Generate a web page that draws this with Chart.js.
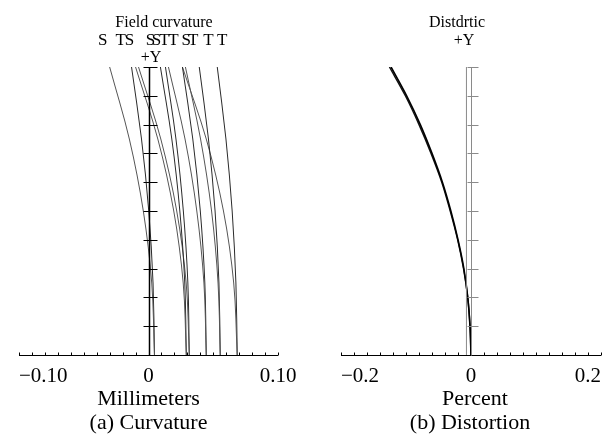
<!DOCTYPE html>
<html>
<head>
<meta charset="utf-8">
<script src="https://cdn.jsdelivr.net/npm/chart.js@4.4.1/dist/chart.umd.min.js"></script>
<style>
  body { margin: 0; background: #fff; width: 608px; height: 434px; overflow: hidden; position: relative; }
  canvas { position: absolute; top: 0; }
  #curv { left: 0; }
  #dist { left: 304px; }
</style>
</head>
<body>
<canvas id="curv" width="304" height="434"></canvas>
<canvas id="dist" width="304" height="434"></canvas>
<script>
// relative field height (0 = axis, 1 = +Y full field)
const fieldPts = [0, 0.25, 0.5, 0.75, 1];

// field curvature, millimeters, read at fieldPts (S = sagittal, T = tangential)
const s1 = [0.0046, 0.0025, -0.0040, -0.0148, -0.0300];
const t1 = [0.0046, 0.0035, 0.0002, -0.0054, -0.0131];
const s2 = [0.0292, 0.0268, 0.0195, 0.0072, -0.0100];
const t2 = [0.0292, 0.0280, 0.0242, 0.0180, 0.0092];
const s3 = [0.0315, 0.0291, 0.0218, 0.0095, -0.0077];
const t3 = [0.0315, 0.0304, 0.0269, 0.0212, 0.0131];
const s4 = [0.0446, 0.0428, 0.0373, 0.0282, 0.0154];
const t4 = [0.0446, 0.0435, 0.0400, 0.0342, 0.0262];
const s5 = [0.0554, 0.0537, 0.0487, 0.0402, 0.0285];
const t5 = [0.0554, 0.0544, 0.0514, 0.0463, 0.0392];
const s6 = [0.0685, 0.0658, 0.0579, 0.0446, 0.0262];
const t6 = [0.0685, 0.0675, 0.0646, 0.0598, 0.0531];

// distortion, percent (two nearly overlapping wavelengths)
const distField = [0, 0.1, 0.2, 0.3, 0.4, 0.5, 0.6, 0.7, 0.8, 0.9, 1];
const distPctA = [0, -0.0015, -0.005, -0.011, -0.020, -0.031, -0.044, -0.060, -0.078, -0.099, -0.123];
const distPctB = [0, -0.0015, -0.005, -0.0115, -0.0205, -0.032, -0.045, -0.0615, -0.080, -0.101, -0.1255];
const distRefField = [0, 1];
const distRefPct = [-0.007, -0.007];

// labels
const curvTopLabels = ['S', 'T', 'S', 'S', 'S', 'T', 'T', 'S', 'T', 'T', 'T'];
const curvXTicks = ['\u22120.10', '0', '0.10'];
const distXTicks = ['\u22120.2', '0', '0.2'];

const serif = '"Liberation Serif", "DejaVu Serif", serif';

function toPoints(xs, ys) {
  return xs.map((v, i) => ({ x: v, y: ys[i] }));
}

function line(ctx, x1, y1, x2, y2) {
  ctx.beginPath();
  ctx.moveTo(x1, y1);
  ctx.lineTo(x2, y2);
  ctx.stroke();
}

function text(ctx, str, x, y, size, align) {
  ctx.font = size + 'px ' + serif;
  ctx.textAlign = align || 'center';
  ctx.textBaseline = 'alphabetic';
  ctx.fillText(str, x, y);
}

// draws the axes and all the text around the plot
const frame = {
  id: 'frame',
  afterDatasetsDraw(chart, args, o) {
    const ctx = chart.ctx;
    const xs = chart.scales.x, ys = chart.scales.y;
    const y0 = Math.round(ys.getPixelForValue(0)) + 0.5;
    const x0 = Math.round(xs.getPixelForValue(0)) + 0.5;
    ctx.save();
    ctx.fillStyle = '#000';

    // horizontal axis with small ticks
    ctx.strokeStyle = '#000';
    ctx.lineWidth = 1;
    line(ctx, xs.left, y0, xs.right, y0);
    const n = Math.round((xs.max - xs.min) / o.xStep);
    for (let i = 0; i <= n; i++) {
      const px = Math.round(xs.getPixelForValue(xs.min + i * o.xStep)) + 0.5;
      line(ctx, px, y0 - 3, px, y0);
    }

    // vertical axis with field ticks
    ctx.strokeStyle = o.yColor;
    ctx.lineWidth = o.yWidth;
    line(ctx, x0, ys.getPixelForValue(1), x0, y0);
    ctx.lineWidth = 1;
    for (let i = 1; i <= 10; i++) {
      const py = Math.round(ys.getPixelForValue(i / 10)) + 0.5;
      line(ctx, x0 + o.tickL, py, x0 + o.tickR, py);
    }

    // tick labels
    const lx = [xs.min, 0, xs.max];
    o.xLabels.forEach((s, i) => {
      const px = xs.getPixelForValue(lx[i]);
      text(ctx, s, px + o.labelShift[i], 382, 21, o.labelAlign[i]);
    });

    // texts
    const cx = (xs.left + xs.right) / 2;
    text(ctx, o.axisTitle, cx + o.axisTitleShift, 405, 22);
    text(ctx, o.caption, cx + o.captionShift, 429, 22);
    text(ctx, o.title, o.titleX, 27, 16);
    text(ctx, '+Y', o.plusYX, o.plusYBase, 16);
    if (o.topLabels) {
      o.topLabels.forEach((s, i) => text(ctx, s, xs.getPixelForValue(o.topLabelX[i]), 45, 17));
    }
    ctx.restore();
  }
};

// curves run along the field axis, so interpolate monotonically in y
const baseLine = {
  borderColor: '#1e1e1e', borderWidth: 1, pointRadius: 0, showLine: true, fill: false,
  cubicInterpolationMode: 'monotone'
};

const curvSets = [s1, t1, s2, t2, s3, t3, s4, t4, s5, t5, s6, t6].map((arr, i) =>
  Object.assign({}, baseLine, { data: toPoints(arr, fieldPts), borderColor: i % 2 ? '#2a2a2a' : '#555' }));

new Chart(document.getElementById('curv'), {
  type: 'scatter',
  data: { datasets: curvSets },
  plugins: [frame],
  options: {
    indexAxis: 'y',
    responsive: false,
    animation: false,
    layout: { padding: { left: 19, right: 26, top: 67, bottom: 79 } },
    scales: {
      x: { type: 'linear', min: -0.1, max: 0.1, display: false },
      y: { type: 'linear', min: 0, max: 1, display: false }
    },
    plugins: {
      legend: { display: false },
      tooltip: { enabled: false },
      frame: {
        xStep: 0.01, yColor: '#000', yWidth: 1.5, tickL: -6, tickR: 8,
        xLabels: curvXTicks, labelAlign: ['left', 'center', 'center'], labelShift: [0, 0, 0],
        axisTitle: 'Millimeters', axisTitleShift: 0,
        caption: '(a) Curvature', captionShift: 0,
        title: 'Field curvature', titleX: 164,
        plusYX: 151, plusYBase: 62,
        topLabels: curvTopLabels,
        topLabelX: [-0.0354, -0.0215, -0.0146, 0.0015, 0.0062, 0.0123, 0.0192, 0.0292, 0.0346, 0.0462, 0.0569]
      }
    }
  }
});

new Chart(document.getElementById('dist'), {
  type: 'scatter',
  data: {
    datasets: [
      Object.assign({}, baseLine, { data: toPoints(distRefPct, distRefField), borderColor: '#8a8a8a' }),
      Object.assign({}, baseLine, { data: toPoints(distPctA, distField), borderColor: '#000', borderWidth: 1.6 }),
      Object.assign({}, baseLine, { data: toPoints(distPctB, distField), borderColor: '#111', borderWidth: 1.4 })
    ]
  },
  plugins: [frame],
  options: {
    indexAxis: 'y',
    responsive: false,
    animation: false,
    layout: { padding: { left: 37, right: 7, top: 67, bottom: 79 } },
    scales: {
      x: { type: 'linear', min: -0.2, max: 0.2, display: false },
      y: { type: 'linear', min: 0, max: 1, display: false }
    },
    plugins: {
      legend: { display: false },
      tooltip: { enabled: false },
      frame: {
        xStep: 0.02, yColor: '#8a8a8a', yWidth: 1, tickL: -4, tickR: 7,
        xLabels: distXTicks, labelAlign: ['left', 'center', 'right'], labelShift: [0, 0, 0],
        axisTitle: 'Percent', axisTitleShift: 4,
        caption: '(b) Distortion', captionShift: -1,
        title: 'Distdrtic', titleX: 153,
        plusYX: 160, plusYBase: 45
      }
    }
  }
});
</script>
</body>
</html>
